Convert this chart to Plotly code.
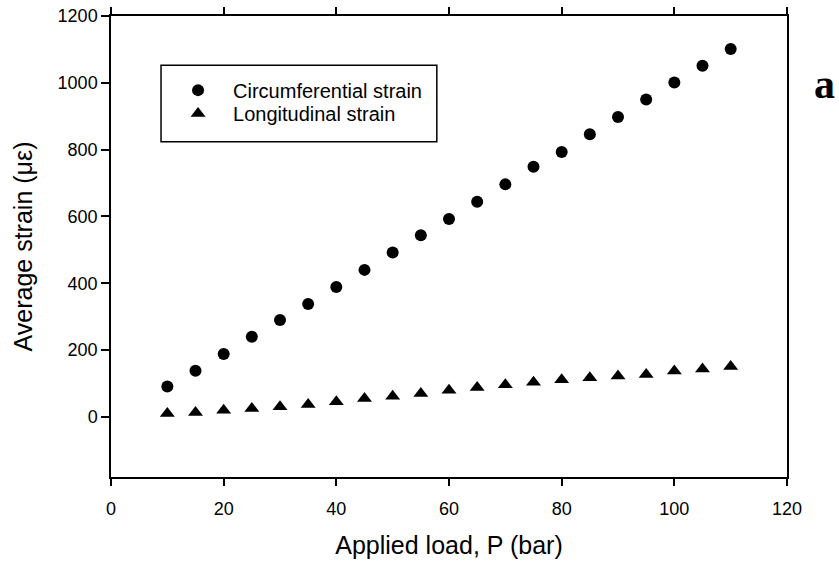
import plotly.graph_objects as go

load_bar = [10, 15, 20, 25, 30, 35, 40, 45, 50, 55, 60, 65, 70, 75, 80, 85, 90, 95, 100, 105, 110]
circumferential = [91, 138, 188, 240, 290, 338, 389, 440, 492, 544, 592, 644, 696, 749, 793, 846, 898, 950, 1001, 1051, 1101]
longitudinal = [10, 13, 20, 25, 30, 37, 45, 55, 62, 70, 80, 88, 96, 104, 111, 117, 122, 127, 137, 143, 151]

x_ticks = [0, 20, 40, 60, 80, 100, 120]
y_ticks = [0, 200, 400, 600, 800, 1000, 1200]

FONT = "Liberation Sans, Arial, Helvetica, sans-serif"

fig = go.Figure()
fig.add_trace(go.Scatter(x=load_bar, y=circumferential, mode="markers",
                         name="Circumferential strain", legend="legend",
                         marker=dict(symbol="circle", size=12, color="black")))
fig.add_trace(go.Scatter(x=load_bar, y=longitudinal, mode="markers",
                         name="Longitudinal strain", legend="legend2",
                         marker=dict(symbol="triangle-up", size=13, color="black")))

axis_common = dict(showgrid=False, zeroline=False, showline=True, linecolor="black",
                   linewidth=1.5, ticks="outside", tickcolor="black", tickwidth=1.5,
                   ticklabeloverflow="allow",
                   tickfont=dict(family=FONT, size=18, color="black"), automargin=False)

fig.update_xaxes(range=[0, 120], tickvals=x_ticks, ticklen=7, mirror="ticks", ticklabelstandoff=8,
                 title=dict(text="Applied load, P (bar)", font=dict(family=FONT, size=25, color="black"), standoff=18),
                 **axis_common)
fig.update_yaxes(range=[-180, 1200], tickvals=y_ticks, ticklen=8, mirror=True,
                 title=dict(text="Average strain (με)", font=dict(family=FONT, size=25, color="black"), standoff=18),
                 **axis_common)

fig.add_shape(type="rect", xref="paper", yref="paper", x0=0.074, x1=0.482, y0=0.727, y1=0.893,
              line=dict(color="black", width=1.5), fillcolor="rgba(0,0,0,0)")

legend_style = dict(xanchor="left", yanchor="top", bgcolor="rgba(0,0,0,0)", borderwidth=0,
                    itemwidth=60, font=dict(family=FONT, size=20, color="black"))

fig.update_layout(
    width=839, height=567,
    margin=dict(l=111, r=52, t=16, b=90),
    plot_bgcolor="white", paper_bgcolor="white",
    showlegend=True,
    legend=dict(x=0.077, y=0.8815, **legend_style),
    legend2=dict(x=0.077, y=0.831, **legend_style),
    annotations=[dict(text="<b>a</b>", xref="paper", yref="paper", x=1.056, y=0.852,
                      xanchor="center", yanchor="middle", showarrow=False,
                      font=dict(family="Liberation Serif, Times New Roman, serif", size=42, color="black"))],
)

fig.write_html("out.html", config={"displayModeBar": False},
               post_script="document.body.style.margin='0';")
